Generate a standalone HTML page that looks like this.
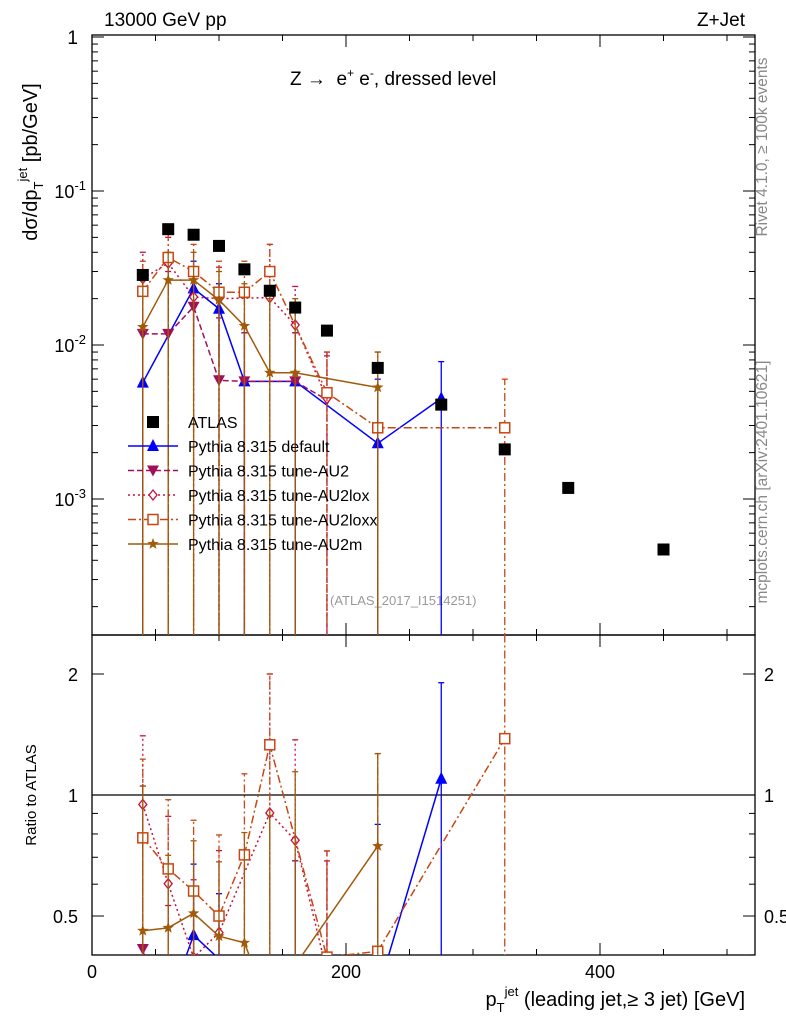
<!DOCTYPE html>
<html><head><meta charset="utf-8">
<style>
html,body{margin:0;background:#fff;overflow:hidden;width:786px;height:1024px;}
svg{display:block;font-family:"Liberation Sans",sans-serif;}
</style></head>
<body>
<svg id="c" width="786" height="1024" xmlns="http://www.w3.org/2000/svg"></svg>
<script>
const bins=[40,60,80,100,120,140,160,185,225,275,325,375,450];
const atlas=[0.0285,0.0565,0.052,0.044,0.031,0.0225,0.0175,0.0124,0.0071,0.0041,0.0021,0.00118,0.00047];
const sDefault=[0.0057,null,0.0233,0.0172,0.0058,null,0.0058,null,0.0023,0.0045,null,null,null];
const sDefaultLo=[1e-6,null,0.012,0.0072,1e-6,null,1e-6,null,1e-6,1e-6,null,null,null];
const sDefaultHi=[0.012,null,0.035,0.025,0.012,null,0.012,null,0.006,0.0078,null,null,null];
const sAU2=[0.0118,0.0118,0.0177,0.0059,0.0058,null,0.0058,0.0044,null,null,null,null,null];
const sAU2Lo=[1e-6,1e-6,0.0075,1e-6,1e-6,null,1e-6,1e-6,null,null,null,null,null];
const sAU2Hi=[0.03,0.03,0.03,0.015,0.012,null,0.012,0.009,null,null,null,null,null];
const sLox=[0.027,0.034,0.0205,0.020,null,0.0203,0.0135,0.0045,null,null,null,null,null];
const sLoxLo=[1e-6,1e-6,1e-6,1e-6,null,1e-6,1e-6,1e-6,null,null,null,null,null];
const sLoxHi=[0.04,0.05,0.032,0.032,null,0.045,0.024,0.0085,null,null,null,null,null];
const sLoxx=[0.0223,0.037,0.030,0.022,0.022,0.030,null,0.0049,0.0029,null,0.0029,null,null];
const sLoxxLo=[1e-6,1e-6,1e-6,1e-6,1e-6,1e-6,null,1e-6,1e-6,null,1e-6,null,null];
const sLoxxHi=[0.035,0.055,0.045,0.035,0.035,0.045,null,0.009,0.009,null,0.006,null,null];
const sAU2m=[0.0131,0.0264,0.0264,0.0196,0.0133,0.0066,0.0066,null,0.0053,null,null,null,null];
const sAU2mLo=[1e-6,1e-6,1e-6,1e-6,1e-6,1e-6,1e-6,null,1e-6,null,null,null,null];
const sAU2mHi=[0.03,0.04,0.04,0.03,0.025,0.02,0.02,null,0.009,null,null,null,null];
const xTicks=[0,200,400];
const yTicks=[1,0.1,0.01,0.001];
const rTicks=[2,1,0.5];

const L=92,R=755,T=35,MB=635,RB=955;
const X=v=>L+v*1.27;
const Y=v=>37+(-Math.log10(v))*154;
const RY=v=>795-402*Math.log10(v);
const svg=document.getElementById('c');
const NS='http://www.w3.org/2000/svg';
function mk(tag,attrs,parent){const e=document.createElementNS(NS,tag);for(const k in attrs)e.setAttribute(k,attrs[k]);(parent||svg).appendChild(e);return e;}
function txt(s,x,y,size,extra,name){const e=mk('text',Object.assign({x:x,y:y,'font-size':size},extra||{}));e.innerHTML=s;


return e;}

const defs=mk('defs',{});
const c1=mk('clipPath',{id:'cm'},defs);mk('rect',{x:L,y:T,width:R-L,height:MB-T},c1);
const c2=mk('clipPath',{id:'cr'},defs);mk('rect',{x:L,y:MB,width:R-L,height:RB-MB},c2);

const f1=mk('rect',{x:L,y:T,width:R-L,height:MB-T,fill:'none',stroke:'#000','stroke-width':1.3});

const f2=mk('rect',{x:L,y:MB,width:R-L,height:RB-MB,fill:'none',stroke:'#000','stroke-width':1.3});


for(let v=0;v<=520;v+=50){const major=v%200===0;const len=major?12:6;
 for(const [yb,yt] of [[MB,T],[RB,MB]]){mk('line',{x1:X(v),x2:X(v),y1:yb,y2:yb-len,stroke:'#000'});mk('line',{x1:X(v),x2:X(v),y1:yt,y2:yt+len,stroke:'#000'});}}
xTicks.forEach(v=>{txt(String(v),X(v),978,18,{'text-anchor':'middle'},'x-tick-label');});
for(let d=-4;d<=0;d++){for(let m=1;m<10;m++){const v=m*Math.pow(10,d);const y=Y(v);if(y<T||y>MB)continue;const len=m===1?12:6;
 mk('line',{x1:L,x2:L+len,y1:y,y2:y,stroke:'#000'});mk('line',{x1:R,x2:R-len,y1:y,y2:y,stroke:'#000'});}}
yTicks.forEach(v=>{const y=Y(v);if(v===1){txt('1',78,y+7,19,{'text-anchor':'end'},'y-tick-label');}else{const e=Math.round(Math.log10(v));txt('10<tspan dy="-8" font-size="13">'+e+'</tspan>',86,y+7,18,{'text-anchor':'end'},'y-tick-label');}});
for(let d=-1;d<=0;d++){for(let m=1;m<10;m++){const v=m*Math.pow(10,d);const y=RY(v);if(y<MB||y>RB)continue;const len=(v===1||v===0.5||v===2)?12:6;
 mk('line',{x1:L,x2:L+len,y1:y,y2:y,stroke:'#000'});mk('line',{x1:R,x2:R-len,y1:y,y2:y,stroke:'#000'});}}
rTicks.forEach(v=>{txt(String(v),78,RY(v)+7,18,{'text-anchor':'end'},'ratio-tick-label-left');txt(String(v),764,RY(v)+7,18,{},'ratio-tick-label-right');});
mk('line',{x1:L,x2:R,y1:RY(1),y2:RY(1),stroke:'#000','stroke-width':1.2});

txt('13000 GeV pp',104,26,19,{},'beam-label');
txt('Z+Jet',745,26,19,{'text-anchor':'end'},'process-label');
txt('Z &#8594; &#160;e<tspan dy="-8" font-size="12">+</tspan><tspan dy="8"> e</tspan><tspan dy="-8" font-size="12">-</tspan><tspan dy="8">, dressed level</tspan>',290,85,19,{},'plot-subtitle');
txt('(ATLAS_2017_I1514251)',330,605,13,{fill:'#999'},'analysis-id');
txt('Rivet 4.1.0, &#8805; 100k events',0,0,15.5,{fill:'#888','text-anchor':'middle',transform:'translate(767,147) rotate(-90)'},'rivet-version-label');
txt('mcplots.cern.ch [arXiv:2401.10621]',0,0,15.5,{fill:'#888','text-anchor':'middle',transform:'translate(767,482) rotate(-90)'},'mcplots-label');
txt('d&#963;/dp<tspan dy="6" font-size="13">T</tspan><tspan dy="-16" font-size="13">jet</tspan><tspan dy="10"> [pb/GeV]</tspan>',0,0,20,{'text-anchor':'middle',transform:'translate(37,162) rotate(-90)'},'y-axis-title');
txt('Ratio to ATLAS',0,0,15,{'text-anchor':'middle',transform:'translate(36,795) rotate(-90)'},'ratio-axis-title');
txt('p<tspan dy="6" font-size="13">T</tspan><tspan dy="-16" font-size="13">jet</tspan><tspan dy="10"> (leading jet,&#8805; 3 jet) [GeV]</tspan>',745,1006,20,{'text-anchor':'end'},'x-axis-title');

function marker(g,type,x,y,col){
 if(type==='sq')mk('rect',{x:x-6,y:y-6,width:12,height:12,fill:'#000'},g);
 else if(type==='tri')mk('polygon',{points:`${x},${y-7} ${x-6},${y+5} ${x+6},${y+5}`,fill:col},g);
 else if(type==='tdn')mk('polygon',{points:`${x},${y+6} ${x-6},${y-5} ${x+6},${y-5}`,fill:col},g);
 else if(type==='dia')mk('polygon',{points:`${x},${y-5} ${x-4},${y} ${x},${y+5} ${x+4},${y}`,fill:'#fff',stroke:col,'stroke-width':1.3},g);
 else if(type==='osq')mk('rect',{x:x-5,y:y-5,width:10,height:10,fill:'#fff',stroke:col,'stroke-width':1.5},g);
 else if(type==='star'){let p=[];for(let i=0;i<10;i++){const r=i%2?2.5:6;const a=-Math.PI/2+i*Math.PI/5;p.push((x+r*Math.cos(a)).toFixed(1)+','+(y+r*Math.sin(a)).toFixed(1));}mk('polygon',{points:p.join(' '),fill:col},g);}
}
const series=[
 {name:'Pythia 8.315 default',id:'default',v:sDefault,lo:sDefaultLo,hi:sDefaultHi,col:'#0000ff',dash:'',m:'tri'},
 {name:'Pythia 8.315 tune-AU2',id:'au2',v:sAU2,lo:sAU2Lo,hi:sAU2Hi,col:'#a0105a',dash:'6,3',m:'tdn'},
 {name:'Pythia 8.315 tune-AU2lox',id:'au2lox',v:sLox,lo:sLoxLo,hi:sLoxHi,col:'#c8103c',dash:'2,3',m:'dia'},
 {name:'Pythia 8.315 tune-AU2loxx',id:'au2loxx',v:sLoxx,lo:sLoxxLo,hi:sLoxxHi,col:'#c84614',dash:'8,3,2,3',m:'osq'},
 {name:'Pythia 8.315 tune-AU2m',id:'au2m',v:sAU2m,lo:sAU2mLo,hi:sAU2mHi,col:'#a05a0a',dash:'',m:'star'}];

function drawSeries(s,clip,yf,ratio){
 const g=mk('g',{'clip-path':'url(#'+clip+')'});
 
 
 const pts=[];
 s.v.forEach((v,i)=>{if(v==null)return;const d=ratio?atlas[i]:1;
  const x=X(bins[i]),y=yf(v/d);pts.push(x+','+y);
  mk('line',{x1:x,x2:x,y1:yf(s.lo[i]/d),y2:yf(s.hi[i]/d),stroke:s.col,'stroke-width':1.3,'stroke-dasharray':s.dash},g);
  mk('line',{x1:x-3,x2:x+3,y1:yf(s.hi[i]/d),y2:yf(s.hi[i]/d),stroke:s.col,'stroke-width':1.3},g);});
 mk('polyline',{points:pts.join(' '),fill:'none',stroke:s.col,'stroke-width':1.5,'stroke-dasharray':s.dash},g);
 s.v.forEach((v,i)=>{if(v==null)return;const d=ratio?atlas[i]:1;marker(g,s.m,X(bins[i]),yf(v/d),s.col);});
}
series.forEach(s=>{drawSeries(s,'cm',Y,false);drawSeries(s,'cr',RY,true);});
const ga=mk('g',{'clip-path':'url(#cm)'});


atlas.forEach((v,i)=>marker(ga,'sq',X(bins[i]),Y(v),'#000'));

const lg=mk('g',{});


marker(lg,'sq',153,422,'#000');txt('ATLAS',188,428,16,{},'legend-entry');
series.forEach((s,i)=>{const y=446+i*24.5;
 mk('line',{x1:128,x2:178,y1:y,y2:y,stroke:s.col,'stroke-width':1.5,'stroke-dasharray':s.dash},lg);
 marker(lg,s.m,153,y,s.col);
 txt(s.name,188,y+6,16,{},'legend-entry');});
</script>
</body></html>
